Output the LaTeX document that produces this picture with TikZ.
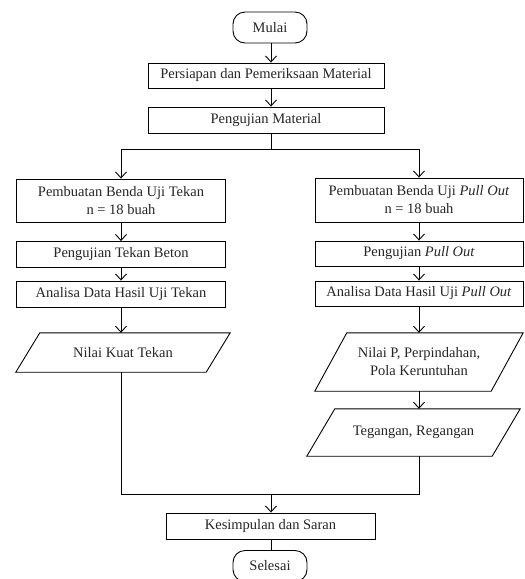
\documentclass[tikz,border=0pt]{standalone}
\usepackage{fontspec}
\setmainfont{Liberation Serif}
\usetikzlibrary{arrows.meta,calc}
\newcommand{\drawpara}[2]{\draw[line width=0.9pt] ($(#1.north west)+(#2,0)$) -- (#1.north east) -- ($(#1.south east)-(#2,0)$) -- (#1.south west) -- cycle;}
\begin{document}
\begin{tikzpicture}[x=1pt,y=-1pt,
  every node/.style={font=\fontsize{14.5}{18}\selectfont, inner sep=0pt, align=center, text=black!85},
  box/.style={draw=black, line width=0.9pt},
  term/.style={draw=black, line width=0.9pt, rounded corners=12pt, minimum width=74pt, minimum height=31pt},
  io/.style={draw=none},
  conn/.style={line width=0.9pt, draw=black},
  arr/.style={conn, -{Straight Barb[length=6pt,width=11pt]}}]
\useasboundingbox[fill=white] (0,0) rectangle (525,579);

\node[term] (mulai) at (270,27.5) {Mulai};
\node[box, minimum width=236pt, minimum height=25pt] (persiapan) at (266,75.5) {Persiapan dan Pemeriksaan Material};
\node[box, minimum width=236pt, minimum height=26pt] (pengujian) at (266,120) {Pengujian Material};
\coordinate (split) at (271,149);

\node[box, minimum width=209pt, minimum height=43pt] (lb1) at (121,200.5) {Pembuatan Benda Uji Tekan\\n = 18 buah};
\node[box, minimum width=209pt, minimum height=26pt] (lb2) at (121,254.5) {Pengujian Tekan Beton};
\node[box, minimum width=209pt, minimum height=26pt] (lb3) at (121,294) {Analisa Data Hasil Uji Tekan};
\node[io, minimum width=214pt, minimum height=39pt] (lp) at (123,352.5) {Nilai Kuat Tekan};
\drawpara{lp}{24}

\node[box, minimum width=208pt, minimum height=44pt] (rb1) at (419,200) {Pembuatan Benda Uji \textit{Pull Out}\\n = 18 buah};
\node[box, minimum width=208pt, minimum height=25pt] (rb2) at (419,253.5) {Pengujian \textit{Pull Out}};
\node[box, minimum width=208pt, minimum height=25pt] (rb3) at (419,293.5) {Analisa Data Hasil Uji \textit{Pull Out}};
\node[io, minimum width=208pt, minimum height=58pt] (rp) at (419,362) {Nilai P, Perpindahan,\\Pola Keruntuhan};
\drawpara{rp}{32}
\node[io, minimum width=213pt, minimum height=47pt] (tp) at (413.5,432.5) {Tegangan, Regangan};
\drawpara{tp}{28}

\coordinate (merge) at (271,494);
\node[box, minimum width=209pt, minimum height=26pt] (kes) at (270.5,526) {Kesimpulan dan Saran};
\node[term] (selesai) at (270,566) {Selesai};

\draw[arr] (mulai.south -| split) -- (persiapan.north -| split);
\draw[arr] (persiapan.south -| split) -- (pengujian.north -| split);
\draw[conn] (pengujian.south -| split) -- (split);
\draw[arr] (split) -| (lb1.north);
\draw[arr] (split) -| (rb1.north);
\draw[arr] (lb1) -- (lb2);
\draw[arr] (lb2) -- (lb3);
\draw[arr] (lb3.south) -- (lp.north -| lb3.south);
\draw[arr] (rb1) -- (rb2);
\draw[arr] (rb2) -- (rb3);
\draw[arr] (rb3) -- (rp);
\draw[arr] (rp.south -| rb3.south) -- (tp.north -| rb3.south);
\draw[conn] (lp.south -| lb3.south) |- (merge);
\draw[conn] (tp.south -| rb3.south) |- (merge);
\draw[arr] (merge) -- (kes.north -| merge);
\draw[conn] (kes.south -| merge) -- (selesai.north -| merge);
\end{tikzpicture}
\end{document}
